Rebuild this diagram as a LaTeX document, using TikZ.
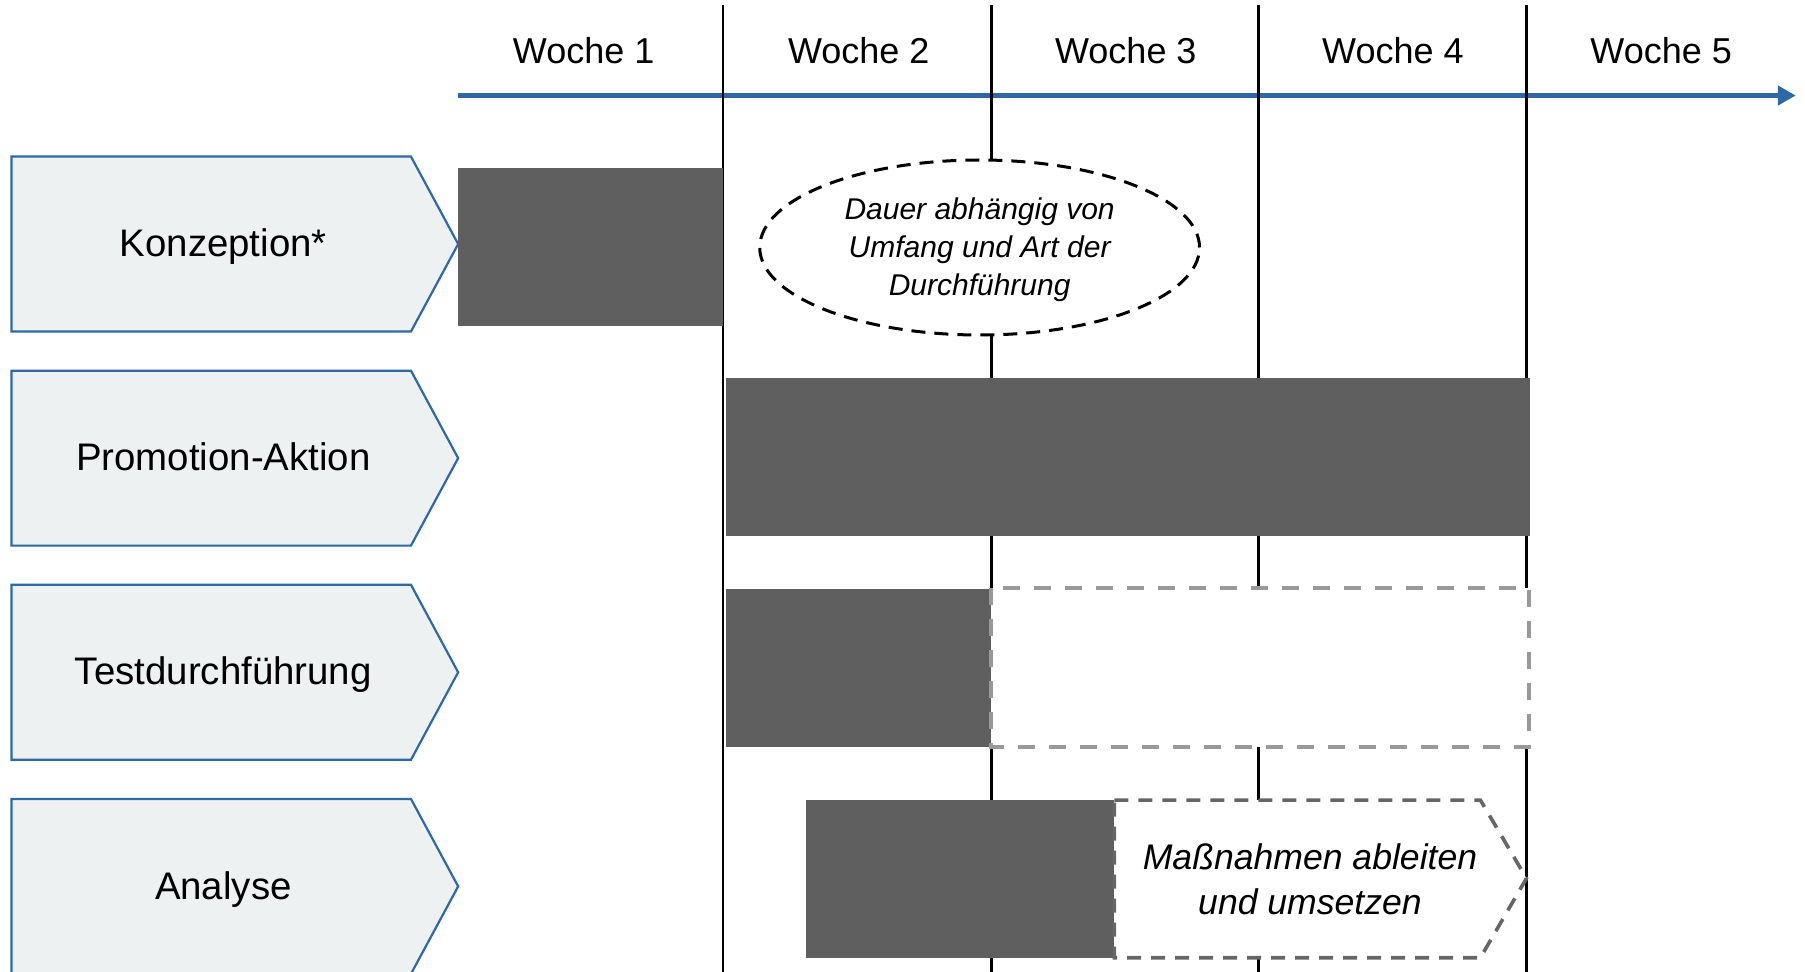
\documentclass[tikz,border=0pt]{standalone}
\usepackage{fontspec}
\setmainfont{Liberation Sans}
\usetikzlibrary{arrows.meta,shapes.geometric}
\definecolor{axisblue}{HTML}{2E69A6}
\definecolor{boxfill}{HTML}{EDF1F2}
\definecolor{bardark}{HTML}{5F5F5F}
\definecolor{dashgray}{HTML}{999999}
\definecolor{dashdark}{HTML}{666666}
\tikzset{
  weekline/.style={black,line width=1.35pt},
  pentbox/.style={draw=axisblue,fill=boxfill,line width=1.1pt,line join=miter},
  rowlabel/.style={anchor=base,inner sep=0pt,font=\fontsize{19.2}{22}\selectfont},
  weeklabel/.style={anchor=base,inner sep=0pt,font=\fontsize{18}{22}\selectfont},
  bar/.style={fill=bardark},
  openbox/.style={draw=dashgray,fill=white,line width=1.8pt,dash pattern=on 8.5pt off 7pt},
  nextbox/.style={draw=dashdark,fill=white,line width=1.8pt,dash pattern=on 7pt off 5pt},
  note/.style={ellipse,draw=black,fill=white,line width=1.5pt,dash pattern=on 7pt off 4.5pt,
    minimum width=219.9pt,minimum height=87.5pt,inner sep=0pt},
  notetext/.style={inner sep=0pt,align=center,font=\fontsize{15}{19}\selectfont\itshape},
  nexttext/.style={inner sep=0pt,align=center,font=\fontsize{17.8}{22.5}\selectfont\itshape},
}
\begin{document}
\begin{tikzpicture}[x=0.57557pt,y=-0.57557pt]
\useasboundingbox (0,0) rectangle (1568,844);
% week grid lines
\foreach \xx in {628,861,1093,1326}{
  \draw[weekline] (\xx,4) -- (\xx,850);
}
% axis
\coordinate (axstart) at (398,83);
\coordinate (axend) at (1560,83);
\draw[axisblue,line width=2.4pt,-{Triangle[length=9pt,width=9.5pt]}] (axstart) -- (axend);
\foreach \xx in {628,861,1093,1326}{
  \draw[weekline] (\xx,70) -- (\xx,96);
}
% week labels
\node[weeklabel] (w1) at (507,55) {Woche 1};
\node[weeklabel] (w2) at (746,55) {Woche 2};
\node[weeklabel] (w3) at (978,55) {Woche 3};
\node[weeklabel] (w4) at (1210,55) {Woche 4};
\node[weeklabel] (w5) at (1443,55) {Woche 5};
% row pentagons
\draw[pentbox] (10,136) -- (357,136) -- (398,212) -- (357,288) -- (10,288) -- cycle;
\draw[pentbox] (10,322) -- (357,322) -- (398,398) -- (357,474) -- (10,474) -- cycle;
\draw[pentbox] (10,508) -- (357,508) -- (398,584) -- (357,660) -- (10,660) -- cycle;
\draw[pentbox] (10,694) -- (357,694) -- (398,770) -- (357,846) -- (10,846) -- cycle;
\node[rowlabel] (konz) at (194,223) {Konzeption*};
\node[rowlabel] (promo) at (194,409) {Promotion-Aktion};
\node[rowlabel] (test) at (194,595) {Testdurchführung};
\node[rowlabel] (anal) at (194,781) {Analyse};
% bars
\fill[bar] (398,146) rectangle (628,283);
\fill[bar] (631,328) rectangle (1329,466);
\fill[bar] (631,512) rectangle (861,649);
\fill[bar] (700,695) rectangle (968,832);
% open test box
\draw[openbox] (861,511) rectangle (1328,649);
% next step pentagon
\draw[nextbox] (968,695) -- (1286,695) -- (1326,763) -- (1286,832) -- (968,832) -- cycle;
\node[nexttext] (massn) at (1138,764) {Maßnahmen ableiten\\und umsetzen};
% note ellipse
\node[note] (dauer) at (851,215) {};
\node[notetext] (dauertext) at (851,217) {Dauer abhängig von\\Umfang und Art der\\Durchführung};
\end{tikzpicture}
\end{document}
